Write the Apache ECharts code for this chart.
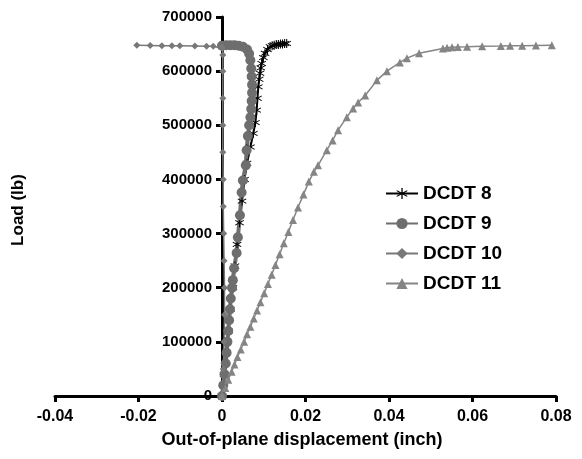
<!DOCTYPE html>
<html>
<head>
<meta charset="utf-8">
<script src="https://cdn.jsdelivr.net/npm/echarts@6/dist/echarts.min.js"></script>
<style>
  html, body { margin: 0; padding: 0; background: #fff; }
  #chart { width: 582px; height: 459px; }
</style>
</head>
<body>
<div id="chart"></div>
<script>
// 数据：位移 (inch) 与荷载 (lb)
const seriesNames = ['DCDT 8', 'DCDT 9', 'DCDT 10', 'DCDT 11']

const dcdt8X = [0, 0.0005, 0.001, 0.0015, 0.002, 0.0026, 0.0031, 0.0036, 0.0042, 0.0048, 0.0054, 0.006, 0.0068, 0.0075, 0.008, 0.0083, 0.0085, 0.0087, 0.0089, 0.0091, 0.0093, 0.0095, 0.0099, 0.0103, 0.0109, 0.0115, 0.012, 0.0125, 0.013, 0.0135, 0.014, 0.0145, 0.015, 0.0155]
const dcdt8Load = [0, 40000, 80000, 120000, 160000, 200000, 240000, 280000, 320000, 360000, 400000, 430000, 460000, 485000, 505000, 528000, 550000, 571000, 585000, 596000, 606000, 614000, 625000, 633000, 640000, 645000, 647000, 648000, 649000, 649000, 650000, 650000, 651000, 651000]

const dcdt9X = [0, 0.0003, 0.0006, 0.0009, 0.0011, 0.0013, 0.0015, 0.0017, 0.0019, 0.0021, 0.0024, 0.0026, 0.0029, 0.0035, 0.0038, 0.0043, 0.0047, 0.005, 0.0057, 0.0059, 0.0062, 0.0065, 0.0068, 0.007, 0.0071, 0.0072, 0.0072, 0.0071, 0.007, 0.0068, 0.0065, 0.006, 0.005, 0.004, 0.003, 0.002, 0.001, 0]
const dcdt9Load = [0, 20000, 40000, 60000, 80000, 100000, 120000, 140000, 160000, 180000, 200000, 214000, 236000, 264000, 293000, 334000, 376000, 398000, 426000, 454000, 480000, 500000, 515000, 530000, 545000, 560000, 575000, 590000, 605000, 620000, 632000, 640000, 645000, 647000, 648000, 648000, 648000, 647000]

const dcdt10X = [0, 0.0003, 0.0005, 0.0006, 0.0006, 0.0005, 0.0004, 0.0003, 0.0003, 0.0002, 0.0002, 0.0002, 0.0002, 0.0002, 0.0001, 0, -0.0021, -0.0037, -0.0065, -0.0101, -0.012, -0.0144, -0.0172, -0.0204]
const dcdt10Load = [0, 50000, 100000, 150000, 200000, 250000, 300000, 350000, 400000, 450000, 500000, 550000, 600000, 630000, 642000, 645000, 646000, 646000, 646500, 647000, 647000, 647000, 647500, 648000]

const dcdt11X = [0, 0.0008, 0.0015, 0.0023, 0.003, 0.0037, 0.0045, 0.0053, 0.006, 0.0068, 0.0076, 0.0084, 0.0092, 0.0101, 0.011, 0.0119, 0.0128, 0.0138, 0.0148, 0.0159, 0.017, 0.0182, 0.0195, 0.0208, 0.022, 0.023, 0.0251, 0.0265, 0.0278, 0.0299, 0.0314, 0.0326, 0.0343, 0.0371, 0.0395, 0.0426, 0.0443, 0.0472, 0.0529, 0.0539, 0.0551, 0.0565, 0.0587, 0.0623, 0.0668, 0.069, 0.0719, 0.0752, 0.079]
const dcdt11Load = [0, 15000, 30000, 45000, 58000, 72000, 86000, 100000, 114000, 128000, 143000, 158000, 173000, 190000, 207000, 224000, 242000, 262000, 282000, 303000, 325000, 348000, 372000, 396000, 414000, 426000, 454000, 472000, 491000, 515000, 531000, 542000, 555000, 583000, 600000, 616000, 624000, 633000, 642000, 643000, 644000, 644500, 645000, 646000, 646500, 647000, 647000, 647500, 648000]

const font = 'Liberation Sans, Arial, sans-serif'

// 星号形状
const starPath = 'path://M-0.6,-6L0.6,-6L0.6,-1L4.6,-3.6L5.2,-2.6L1.2,0L5.2,2.6L4.6,3.6L0.6,1L0.6,6L-0.6,6L-0.6,1L-4.6,3.6L-5.2,2.6L-1.2,0L-5.2,-2.6L-4.6,-3.6L-0.6,-1Z'

function zip(xs, ys) {
  return xs.map((x, i) => [x, ys[i]])
}

const chart = echarts.init(document.getElementById('chart'))

const option = {
  animation: false,
  grid: { left: 55, right: 26, top: 17, bottom: 63 },
  legend: {
    orient: 'vertical',
    left: 380,
    top: 179,
    itemWidth: 32,
    itemHeight: 14,
    itemGap: 11,
    textStyle: { fontFamily: font, fontSize: 19, fontWeight: 'bold', color: '#000' },
    data: seriesNames
  },
  xAxis: {
    type: 'value',
    min: -0.04,
    max: 0.08,
    interval: 0.02,
    splitLine: { show: false },
    axisLine: { lineStyle: { color: '#000', width: 3 } },
    axisTick: { length: 6, lineStyle: { color: '#000', width: 3 } },
    axisLabel: { fontFamily: font, fontSize: 16, fontWeight: 'bold', color: '#000', margin: 13 }
  },
  yAxis: {
    type: 'value',
    min: 0,
    max: 700000,
    interval: 100000,
    offset: -167, // 纵轴放在 x = 0 处
    splitLine: { show: false },
    axisLine: { onZero: false, lineStyle: { color: '#000', width: 3 } },
    axisTick: { length: 6, lineStyle: { color: '#000', width: 3 } },
    axisLabel: { fontFamily: font, fontSize: 15, fontWeight: 'bold', color: '#000', margin: 10, formatter: v => String(v) }
  },
  graphic: [
    {
      type: 'text',
      x: 18,
      y: 210,
      rotation: Math.PI / 2,
      style: { text: 'Load (lb)', fontFamily: font, fontSize: 17, fontWeight: 'bold', fill: '#000', align: 'center', verticalAlign: 'middle' }
    },
    {
      type: 'text',
      x: 302,
      y: 440,
      style: { text: 'Out-of-plane displacement (inch)', fontFamily: font, fontSize: 18, fontWeight: 'bold', fill: '#000', align: 'center', verticalAlign: 'middle' }
    }
  ],
  series: [
    {
      name: 'DCDT 8',
      type: 'line',
      data: zip(dcdt8X, dcdt8Load),
      symbol: starPath,
      symbolSize: 9,
      lineStyle: { color: '#000', width: 2 },
      itemStyle: { color: '#000' }
    },
    {
      name: 'DCDT 9',
      type: 'line',
      data: zip(dcdt9X, dcdt9Load),
      symbol: 'circle',
      symbolSize: 10,
      lineStyle: { color: '#6e6e6e', width: 4 },
      itemStyle: { color: '#6e6e6e' }
    },
    {
      name: 'DCDT 10',
      type: 'line',
      data: zip(dcdt10X, dcdt10Load),
      symbol: 'diamond',
      symbolSize: 7,
      lineStyle: { color: '#787878', width: 1.5 },
      itemStyle: { color: '#787878' }
    },
    {
      name: 'DCDT 11',
      type: 'line',
      data: zip(dcdt11X, dcdt11Load),
      symbol: 'triangle',
      symbolSize: 8,
      lineStyle: { color: '#858585', width: 1.5 },
      itemStyle: { color: '#858585' }
    }
  ]
}

chart.setOption(option)
</script>
</body>
</html>
